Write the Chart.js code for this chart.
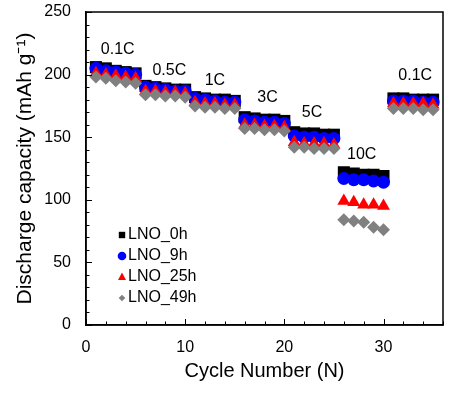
<!DOCTYPE html>
<html>
<head>
<meta charset="utf-8">
<script src="https://cdn.jsdelivr.net/npm/chart.js@4/dist/chart.umd.min.js"></script>
<style>
html,body{margin:0;padding:0;background:#fff;}
#wrap{width:461px;height:396px;position:relative;}
</style>
</head>
<body>
<div id="wrap"><canvas id="c" width="461" height="396"></canvas></div>
<script>
const cycles = [1,2,3,4,5,6,7,8,9,10,11,12,13,14,15,16,17,18,19,20,21,22,23,24,25,26,27,28,29,30,31,32,33,34,35];
const seriesNames = ['LNO_0h','LNO_9h','LNO_25h','LNO_49h'];
const lno0h  = [206,205,203,202,201, 191,190,189,188,188, 182,181,180,180,179, 166,165,164,164,163, 154,153,153,152,152, 122,121,120,120,119, 181,181,180,180,180];
const lno9h  = [205,203,202,201,200, 190,189,188,187,187, 181,180,179,178,178, 164,163,162,162,161, 151,150,150,149,149, 117,116,116,115,114, 179,179,179,178,178];
const lno25h = [201,200,199,198,197, 187,187,186,186,185, 178,177,177,176,176, 160,160,159,159,158, 146,145,145,145,144,  99, 98, 96, 96, 95, 177,177,177,177,176];
const lno49h = [198,197,195,194,193, 184,184,183,183,182, 175,174,174,173,173, 157,157,156,156,155, 142,142,141,141,141,  84, 83, 82, 78, 76, 173,173,173,172,172];
const rateLabels = ['0.1C','0.5C','1C','3C','5C','10C','0.1C'];
const rateLabelX = [3.2, 8.4, 13.0, 18.3, 22.8, 27.8, 33.2];
const rateLabelY = [220, 203, 195, 182, 170, 136, 199];
const xTicks = [0,10,20,30];
const yTicks = [0,50,100,150,200,250];

const FONT = "'Liberation Sans', Arial, sans-serif";
const colors = ['#000000','#0000ff','#ff0000','#808080'];
const styles = ['rect','circle','triangle','rectRot'];
const radii = [8.5,6.5,7.5,6.5];
const allSeries = [lno0h,lno9h,lno25h,lno49h];

const datasets = allSeries.map((s,i)=>({
  label: seriesNames[i],
  data: s.map((v,j)=>({x:cycles[j], y:v})),
  showLine:false,
  pointStyle: styles[i],
  pointRadius: radii[i],
  pointHoverRadius: radii[i],
  backgroundColor: colors[i],
  borderColor: colors[i],
  borderWidth: 0,
  order: 4-i
}));

function drawMarker(ctx, style, x, y, r, color){
  ctx.save();
  ctx.fillStyle=color;
  ctx.beginPath();
  if(style==='rect'){ ctx.rect(x-r,y-r,2*r,2*r); }
  else if(style==='circle'){ ctx.arc(x,y,r,0,Math.PI*2); }
  else if(style==='triangle'){ ctx.moveTo(x,y-r*1.1); ctx.lineTo(x+r,y+r*0.75); ctx.lineTo(x-r,y+r*0.75); ctx.closePath(); }
  else { ctx.moveTo(x,y-r); ctx.lineTo(x+r,y); ctx.lineTo(x,y+r); ctx.lineTo(x-r,y); ctx.closePath(); }
  ctx.fill();
  ctx.restore();
}

const extras = {
  id:'extras',
  afterDatasetsDraw(chart){
    const ctx = chart.ctx;
    const xs = chart.scales.x, ys = chart.scales.y;
    const a = chart.chartArea;
    ctx.save();
    ctx.strokeStyle='#000'; ctx.lineWidth=1;
    for(let v=0; v<=36; v+=2){
      const px = Math.round(xs.getPixelForValue(v))+0.5;
      const len = (v%10===0)?6:3.5;
      ctx.beginPath(); ctx.moveTo(px,a.bottom); ctx.lineTo(px,a.bottom-len); ctx.stroke();
    }
    for(let v=0; v<=250; v+=10){
      const py = Math.round(ys.getPixelForValue(v))+0.5;
      const len = (v%50===0)?6:3.5;
      ctx.beginPath(); ctx.moveTo(a.left,py); ctx.lineTo(a.left+len,py); ctx.stroke();
    }
    ctx.lineWidth=1.5;
    ctx.strokeRect(a.left, a.top, a.right-a.left, a.bottom-a.top);
    ctx.fillStyle='#000';
    ctx.font = '16px '+FONT;
    ctx.textAlign='center'; ctx.textBaseline='middle';
    rateLabels.forEach((t,i)=>{
      ctx.fillText(t, xs.getPixelForValue(rateLabelX[i]), ys.getPixelForValue(rateLabelY[i]));
    });
    const lx = 122, ly0 = 235, dy = 21;
    const lr = [3.2,4.3,4,3.3];
    seriesNames.forEach((n,i)=>{
      const y = ly0 + i*dy;
      drawMarker(ctx, styles[i], lx, y, lr[i], colors[i]);
      ctx.fillStyle='#000';
      ctx.textAlign='left'; ctx.textBaseline='middle';
      ctx.fillText(n, lx+6, y);
    });
    ctx.restore();
  }
};

new Chart(document.getElementById('c'), {
  type:'scatter',
  data:{datasets},
  plugins:[extras],
  options:{
    responsive:false,
    animation:false,
    devicePixelRatio:1,
    layout:{padding:{left:13,right:18,top:12,bottom:5}},
    plugins:{legend:{display:false}, tooltip:{enabled:false}},
    scales:{
      x:{
        type:'linear', min:0, max:36,
        afterBuildTicks(s){ s.ticks = xTicks.map(v=>({value:v})); },
        ticks:{color:'#000', font:{family:FONT,size:16}, padding:13, maxRotation:0},
        grid:{display:false, drawTicks:false},
        border:{display:true,color:'#000',width:1.5},
        title:{display:true,text:'Cycle Number (N)',color:'#000',font:{family:FONT,size:20},padding:{top:0,bottom:8}},
        afterFit(s){ s.height = 66; s.paddingLeft = 0; s.paddingRight = 0; }
      },
      y:{
        type:'linear', min:0, max:250,
        afterBuildTicks(s){ s.ticks = yTicks.map(v=>({value:v})); },
        ticks:{color:'#000', font:{family:FONT,size:16}, padding:15},
        grid:{display:false, drawTicks:false},
        border:{display:true,color:'#000',width:1.5},
        title:{display:true,text:'Discharge capacity (mAh g\u207B\u00B9)',color:'#000',font:{family:FONT,size:21},padding:{top:0,bottom:0}},
        afterFit(s){ s.width = 73; s.paddingTop = 0; s.paddingBottom = 0; }
      }
    }
  }
});
</script>
</body>
</html>
